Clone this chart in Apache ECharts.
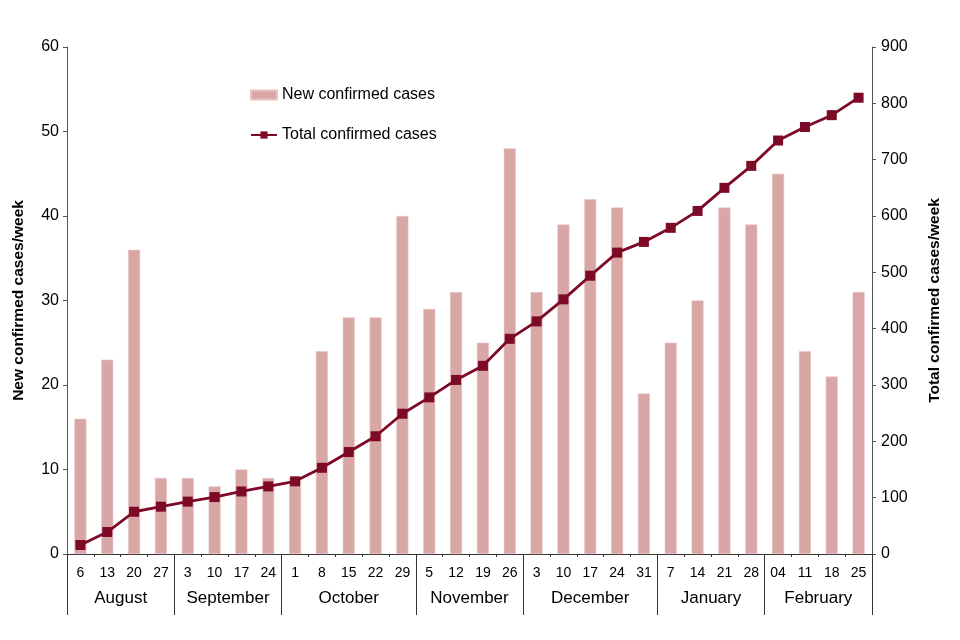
<!DOCTYPE html>
<html><head><meta charset="utf-8">
<script src="https://cdn.jsdelivr.net/npm/echarts@6/dist/echarts.min.js"></script>
<style>html,body{margin:0;padding:0;background:#fff}#c{width:960px;height:640px}</style>
</head><body><div id="c"></div>
<script>
const weekLabels = ['6','13','20','27','3','10','17','24','1','8','15','22','29','5','12','19','26','3','10','17','24','31','7','14','21','28','04','11','18','25'];
const monthNames = ['August','September','October','November','December','January','February'];
const monthWeeks = [4,4,5,4,5,4,4];
const newCases = [16,23,36,9,9,8,10,9,9,24,28,28,40,29,31,25,48,31,39,42,41,19,25,30,41,39,45,24,21,31];
const totalCases = [16,39,75,84,93,101,111,120,129,153,181,209,249,278,309,334,382,413,452,494,535,554,579,609,650,689,734,758,779,810];

// month axis: half-week boundary points
const monthCats = [];
const boundaryIdx = new Set([0]);
const centerIdx = {};
let pos = 0;
monthWeeks.forEach((w, i) => {
  centerIdx[pos + w] = monthNames[i];
  pos += 2 * w;
  boundaryIdx.add(pos);
});
for (let k = 0; k <= pos; k++) monthCats.push(centerIdx[k] || '');

const font = 'Liberation Sans, Arial, sans-serif';
const chart = echarts.init(document.getElementById('c'), null, {renderer: 'canvas'});
chart.setOption({
  animation: false,
  textStyle: {fontFamily: font},
  grid: {left: 67, right: 88, top: 47, bottom: 86, containLabel: false, outerBoundsMode: 'none'},
  legend: {
    left: 245, top: 82, orient: 'vertical', itemGap: 24, itemWidth: 26, itemHeight: 9,
    textStyle: {fontSize: 16, color: '#000', fontFamily: font},
    data: [{name: 'New confirmed cases', icon: 'rect'}, {name: 'Total confirmed cases'}]
  },
  xAxis: [{
    type: 'category', data: weekLabels, position: 'bottom',
    axisLine: {lineStyle: {color: '#333', width: 1}},
    axisTick: {show: true, length: 3, lineStyle: {color: '#333'}},
    axisLabel: {color: '#000', fontSize: 14, margin: 12, interval: 0, fontFamily: font}
  }, {
    type: 'category', data: monthCats, boundaryGap: false, position: 'bottom',
    axisLine: {show: false},
    axisTick: {show: true, length: 61, interval: (i) => boundaryIdx.has(i), lineStyle: {color: '#333'}},
    axisLabel: {color: '#000', fontSize: 17, margin: 36, interval: (i, v) => v !== '', fontFamily: font}
  }],
  yAxis: [{
    type: 'value', min: 0, max: 60, interval: 10,
    name: 'New confirmed cases/week', nameLocation: 'middle', nameGap: 40, nameRotate: 90,
    nameTextStyle: {fontSize: 15.5, fontWeight: 'bold', color: '#000', fontFamily: font},
    axisLine: {show: true, lineStyle: {color: '#555'}},
    axisTick: {show: true, length: 4, lineStyle: {color: '#555'}},
    axisLabel: {color: '#000', fontSize: 16, margin: 8, fontFamily: font},
    splitLine: {show: false}
  }, {
    type: 'value', min: 0, max: 900, interval: 100, position: 'right',
    name: 'Total confirmed cases/week', nameLocation: 'middle', nameGap: 55, nameRotate: 90,
    nameTextStyle: {fontSize: 15.5, fontWeight: 'bold', color: '#000', fontFamily: font},
    axisLine: {show: true, lineStyle: {color: '#555'}},
    axisTick: {show: true, length: 4, lineStyle: {color: '#555'}},
    axisLabel: {color: '#000', fontSize: 16, margin: 9, fontFamily: font},
    splitLine: {show: false}
  }],
  series: [{
    name: 'New confirmed cases', type: 'bar', xAxisIndex: 0, yAxisIndex: 0,
    data: newCases, barWidth: 12,
    itemStyle: {color: '#d9a6a6', borderColor: '#e8c2c2', borderWidth: 0.6}
  }, {
    name: 'Total confirmed cases', type: 'line', xAxisIndex: 0, yAxisIndex: 1,
    data: totalCases, symbol: 'rect', symbolSize: 10,
    lineStyle: {color: '#7d0a26', width: 2.8},
    itemStyle: {color: '#7d0a26'}
  }]
});
</script></body></html>
